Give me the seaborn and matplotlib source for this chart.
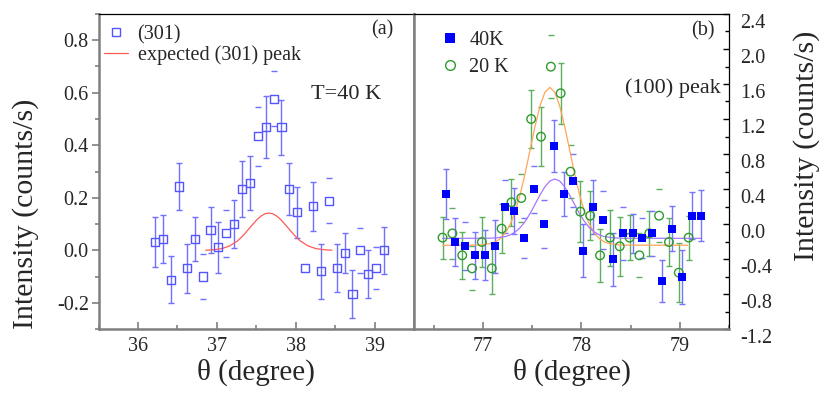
import numpy as np
import pandas as pd
import matplotlib
matplotlib.use("Agg")
import matplotlib.pyplot as plt
import seaborn as sns
from matplotlib.lines import Line2D
from matplotlib.ticker import MultipleLocator, FormatStrFormatter

# ---------------- data: panel (a), (301) at T=40 K ----------------
theta_a = [36.22, 36.32, 36.42, 36.52, 36.62, 36.72, 36.82, 36.92, 37.02, 37.12,
           37.22, 37.32, 37.42, 37.52, 37.62, 37.72, 37.82, 37.92, 38.02, 38.12,
           38.22, 38.32, 38.42, 38.52, 38.62, 38.72, 38.82, 38.92, 39.02, 39.12]
int_a = [0.032, 0.043, -0.112, 0.243, -0.068, 0.043, -0.100, 0.077, 0.011, 0.065,
         0.100, 0.233, 0.256, 0.434, 0.468, 0.577, 0.468, 0.234, 0.144, -0.068,
         0.167, -0.080, 0.189, -0.068, -0.012, -0.167, 0.000, -0.090, -0.068, 0.000]
err_a = [0.094, 0.093, 0.090, 0.090, 0.093, 0.085, 0.086, 0.086, 0.097, 0.090,
         0.090, 0.106, 0.103, 0.112, 0.118, 0.105, 0.106, 0.100, 0.098, 0.000,
         0.093, 0.105, 0.086, 0.090, 0.076, 0.092, 0.085, 0.090, 0.080, 0.090]
# 'b' = full error bar, 'c' = only caps visible, 'n' = none
bar_a = list("bbbbbbcbbcbbbcbcbbbnbbcbbbcbcb")

# expected (301) peak
exp_theta = [36.86, 36.96, 37.06, 37.16, 37.26, 37.31, 37.36, 37.41, 37.46, 37.51,
             37.56, 37.61, 37.66, 37.71, 37.76, 37.81, 37.86, 37.91, 37.96, 38.01,
             38.06, 38.16, 38.26, 38.36, 38.46]
exp_int = [0.000, 0.002, 0.006, 0.016, 0.035, 0.049, 0.065, 0.083, 0.100, 0.117,
           0.130, 0.139, 0.142, 0.139, 0.130, 0.117, 0.100, 0.083, 0.065, 0.049,
           0.035, 0.016, 0.006, 0.002, 0.000]

# ---------------- data: panel (b), (100) peak ----------------
theta_40 = [76.62, 76.72, 76.82, 76.92, 77.02, 77.12, 77.22, 77.32, 77.42, 77.52,
            77.62, 77.72, 77.82, 77.92, 78.02, 78.12, 78.22, 78.32, 78.42, 78.52,
            78.62, 78.72, 78.82, 78.92, 79.02, 79.12, 79.22]
int_40 = [0.343, -0.206, -0.255, -0.358, -0.358, -0.255, 0.198, 0.149, -0.156, 0.396,
          -0.003, 0.891, 0.343, 0.495, -0.305, 0.198, 0.046, -0.404, -0.107, -0.107,
          -0.156, -0.107, -0.655, -0.053, -0.606, 0.095, 0.095]
err_40 = [0.29, 0.27, 0.275, 0.27, 0.285, 0.30, 0.30, 0.26, 0.23, 0.27,
          0.275, 0.295, 0.255, 0.305, 0.30, 0.31, 0.33, 0.30, 0.30, 0.22,
          0.23, 0.26, 0.24, 0.26, 0.31, 0.27, 0.29]
bar_40 = list("bbcbbbcbcccbbcbbcbcbccbbbbb")

theta_20 = [76.59, 76.69, 76.79, 76.89, 76.99, 77.09, 77.19, 77.29, 77.39, 77.49,
            77.59, 77.69, 77.79, 77.89, 77.99, 78.09, 78.19, 78.29, 78.39, 78.49,
            78.59, 78.69, 78.79, 78.89, 78.99, 79.09]
int_20 = [-0.156, -0.107, -0.358, -0.507, -0.206, -0.507, -0.053, 0.248, 0.297, 1.200,
          0.998, 1.798, 1.494, 0.598, 0.141, 0.095, -0.358, -0.156, -0.255, -0.156,
          -0.358, -0.107, 0.095, -0.206, -0.556, -0.156]
err_20 = [0.24, 0.29, 0.27, 0.25, 0.29, 0.29, 0.28, 0.27, 0.27, 0.33,
          0.34, 0.36, 0.35, 0.30, 0.35, 0.28, 0.30, 0.32, 0.34, 0.26,
          0.25, 0.26, 0.30, 0.27, 0.34, 0.25]
bar_20 = list("bcbcbbbbcbbcbcbbbbbbcbcbbb")

# fitted curves
fit20_theta = [76.59, 76.88, 76.98, 77.08, 77.13, 77.18, 77.23, 77.28, 77.33, 77.38,
               77.43, 77.48, 77.53, 77.58, 77.63, 77.68, 77.73, 77.78, 77.83, 77.88,
               77.93, 77.98, 78.03, 78.08, 78.13, 78.18, 78.23, 78.28, 78.38, 78.48, 79.08]
fit20_int = [-0.243, -0.242, -0.239, -0.223, -0.202, -0.164, -0.099, 0.001, 0.147, 0.343,
             0.583, 0.852, 1.119, 1.350, 1.506, 1.562, 1.506, 1.350, 1.119, 0.852,
             0.583, 0.343, 0.147, 0.001, -0.099, -0.164, -0.202, -0.223, -0.239, -0.242, -0.243]
fit40_theta = [76.59, 77.03, 77.13, 77.23, 77.28, 77.33, 77.38, 77.43, 77.48, 77.53,
               77.58, 77.63, 77.68, 77.73, 77.78, 77.83, 77.88, 77.93, 77.98, 78.03,
               78.08, 78.13, 78.18, 78.23, 78.33, 78.43, 79.21]
fit40_int = [-0.164, -0.163, -0.159, -0.143, -0.123, -0.090, -0.040, 0.031, 0.121, 0.226,
             0.332, 0.426, 0.491, 0.514, 0.491, 0.426, 0.332, 0.226, 0.121, 0.031,
             -0.040, -0.090, -0.123, -0.143, -0.159, -0.163, -0.164]

# ---------------- style ----------------
sns.set_theme(style="ticks")
plt.rcParams["font.family"] = ["Liberation Serif", "DejaVu Serif"]
plt.rcParams["axes.unicode_minus"] = False

GRAY = "#7f7f7f"
C_A = "#5555ff"
C_A_ERR = "#7070ff"
C_RED = "#ff5a5a"
C_B40 = "#0000ff"
C_B40_ERR = "#7575ff"
C_G20 = "#2f9a2f"
C_G20_ERR = "#5cb05c"
C_ORANGE = "#ffa65a"
C_PURPLE = "#a777ff"

fig = plt.figure(figsize=(8.30, 3.96), dpi=100)
ax1 = fig.add_axes([98.5 / 830, 67 / 396, 315.5 / 830, 315 / 396])
ax2 = fig.add_axes([414 / 830, 67 / 396, 315 / 830, 315 / 396])


def draw_errors(ax, x, y, e, kind, color):
    x = np.asarray(x); y = np.asarray(y); e = np.asarray(e); k = np.asarray(kind)
    m = k == "b"
    ax.errorbar(x[m], y[m], yerr=e[m], fmt="none", ecolor=color, elinewidth=1.0,
                capsize=2.2, capthick=1.0, zorder=2)
    m = k == "c"
    ax.errorbar(x[m], y[m], yerr=e[m], fmt="none", ecolor=color, elinewidth=0.0,
                capsize=2.2, capthick=1.0, zorder=2)


def scatter(ax, x, y, marker, color, filled, size):
    df = pd.DataFrame({"x": x, "y": y})
    sns.scatterplot(data=df, x="x", y="y", ax=ax, marker=marker, s=size,
                    color=color, linewidth=1.0, zorder=5, legend=False)
    coll = ax.collections[-1]
    coll.set_edgecolor(color)
    coll.set_facecolor(color if filled else "none")
    coll.set_linewidth(1.0 if not filled else 0.0)


# ---------------- panel (a) ----------------
draw_errors(ax1, theta_a, int_a, err_a, bar_a, C_A_ERR)
sns.lineplot(x=exp_theta, y=exp_int, ax=ax1, color=C_RED, lw=0.9, sort=False,
             estimator=None, zorder=3)
scatter(ax1, theta_a, int_a, "s", C_A, False, 34)

ax1.set_xlim(35.5, 39.5)
ax1.set_ylim(-0.3, 0.9)
ax1.xaxis.set_major_locator(MultipleLocator(1))
ax1.xaxis.set_minor_locator(MultipleLocator(0.5))
ax1.yaxis.set_major_locator(MultipleLocator(0.2))
ax1.yaxis.set_minor_locator(MultipleLocator(0.1))
ax1.yaxis.set_major_formatter(FormatStrFormatter("%.1f"))
ax1.tick_params(axis="y", which="major", direction="out", length=5, width=1.2,
                color=GRAY, labelsize=14.5, pad=2)
ax1.tick_params(axis="y", which="minor", direction="out", length=3, width=1.2, color=GRAY)
ax1.tick_params(axis="x", which="major", direction="in", length=5, width=1.2,
                color=GRAY, labelsize=14.5, pad=6)
ax1.tick_params(axis="x", which="minor", direction="in", length=3, width=1.2, color=GRAY)
for s in ["left", "bottom", "right"]:
    ax1.spines[s].set_color(GRAY)
    ax1.spines[s].set_linewidth(1.8)
ax1.spines["top"].set_color("black")
ax1.spines["top"].set_linewidth(0.9)
ax1.set_xlabel("θ (degree)", fontsize=21, labelpad=2)
ax1.set_ylabel("")
ax1.grid(False)

h1 = [Line2D([], [], ls="none", marker="s", mfc="none", mec=C_A, mew=1.0, ms=6),
      Line2D([], [], color=C_RED, lw=0.9)]
ax1.legend(h1, ["(301)", "expected (301) peak"], loc="upper left",
           bbox_to_anchor=(0.012, 0.972), frameon=False, fontsize=14.5,
           handlelength=1.2, handletextpad=0.45, labelspacing=0.08,
           borderpad=0.1, borderaxespad=0)
ax1.text(0.898, 0.95, "(a)", transform=ax1.transAxes, fontsize=14.5,
         ha="center", va="center")
ax1.text(0.786, 0.745, "T=40 K", transform=ax1.transAxes, fontsize=16,
         ha="center", va="center")

# ---------------- panel (b) ----------------
draw_errors(ax2, theta_20, int_20, err_20, bar_20, C_G20_ERR)
draw_errors(ax2, theta_40, int_40, err_40, bar_40, C_B40_ERR)
sns.lineplot(x=fit20_theta, y=fit20_int, ax=ax2, color=C_ORANGE, lw=0.9, sort=False,
             estimator=None, zorder=3)
sns.lineplot(x=fit40_theta, y=fit40_int, ax=ax2, color=C_PURPLE, lw=0.9, sort=False,
             estimator=None, zorder=3)
scatter(ax2, theta_20, int_20, "o", C_G20, False, 38)
scatter(ax2, theta_40, int_40, "s", C_B40, True, 36)

ax2.set_xlim(76.3, 79.5)
ax2.set_ylim(-1.2, 2.4)
ax2.xaxis.set_major_locator(MultipleLocator(1))
ax2.xaxis.set_minor_locator(MultipleLocator(0.5))
ax2.yaxis.set_minor_locator(MultipleLocator(0.2))
yt = np.round(np.arange(-1.2, 2.41, 0.4), 1)
ax2.set_yticks(yt, [f"{v:.1f}" for v in yt], va="top")
ax2.yaxis.tick_right()
ax2.tick_params(axis="y", which="major", direction="in", length=4, width=1.0,
                color="black", labelsize=14.5, pad=8, left=False, right=True,
                labelleft=False, labelright=True)
ax2.tick_params(axis="y", which="minor", direction="in", length=3, width=1.0,
                color="black", left=False, right=True)
ax2.tick_params(axis="x", which="major", direction="in", length=5, width=1.2,
                color=GRAY, labelsize=14.5, pad=6)
ax2.tick_params(axis="x", which="minor", direction="in", length=3, width=1.2, color=GRAY)
for s in ["left", "bottom"]:
    ax2.spines[s].set_color(GRAY)
    ax2.spines[s].set_linewidth(1.8)
for s in ["top", "right"]:
    ax2.spines[s].set_color("black")
    ax2.spines[s].set_linewidth(0.9)
ax2.set_xlabel("θ (degree)", fontsize=21, labelpad=2)
ax2.set_ylabel("")
ax2.grid(False)

h2 = [Line2D([], [], ls="none", marker="s", mfc=C_B40, mec=C_B40, mew=0, ms=7),
      Line2D([], [], ls="none", marker="o", mfc="none", mec=C_G20, mew=1.0, ms=7)]
ax2.legend(h2, ["40K", "20 K"], loc="upper left", bbox_to_anchor=(0.076, 0.953),
           frameon=False, fontsize=14.5, handlelength=1.0, handletextpad=0.45,
           labelspacing=0.4, borderpad=0.1, borderaxespad=0)
ax2.text(0.917, 0.945, "(b)", transform=ax2.transAxes, fontsize=14.5,
         ha="center", va="center")
ax2.text(0.822, 0.764, "(100) peak", transform=ax2.transAxes, fontsize=16,
         ha="center", va="center")

# ---------------- axis titles ----------------
fig.text(26 / 830, 1 - 214 / 396, "Intensity (counts/s)", rotation=90,
         fontsize=21.5, ha="center", va="center")
fig.text(807 / 830, 1 - 146 / 396, "Intensity (counts/s)", rotation=90,
         fontsize=21.5, ha="center", va="center")

fig.savefig("out.png", dpi=100)
